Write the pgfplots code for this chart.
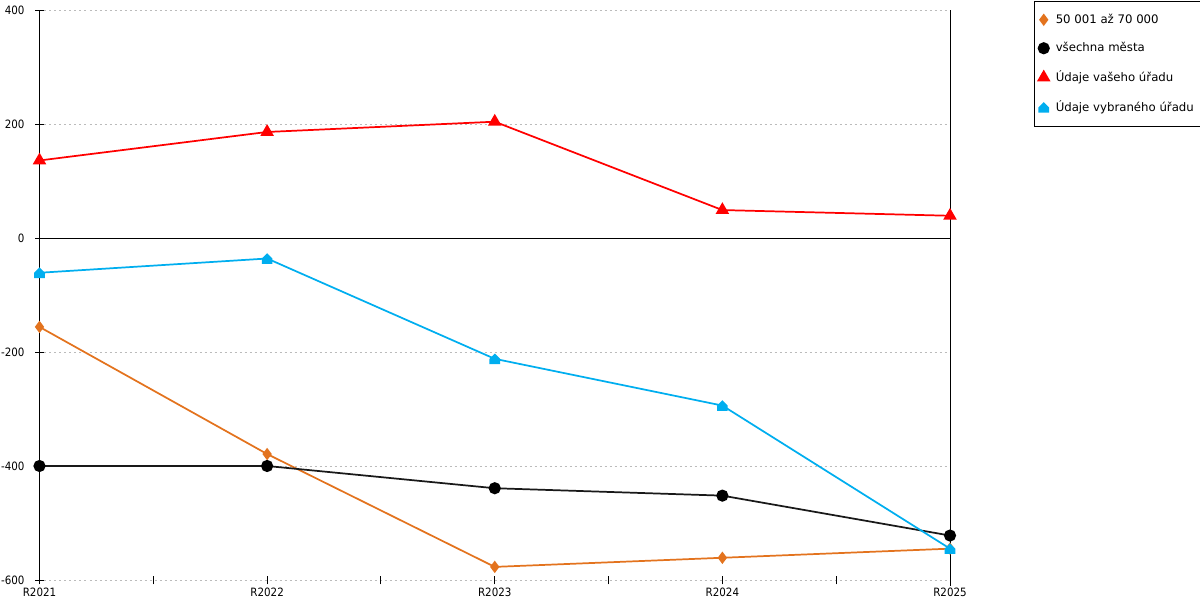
\documentclass[border=0pt]{standalone}
\usepackage{fontspec}
\setmainfont{DejaVu Sans}
\newfontfamily\condfont{DejaVu Sans Condensed}
\usepackage{pgfplots}
\pgfplotsset{compat=1.18}
\definecolor{corange}{HTML}{E3731E}
\definecolor{cblue}{HTML}{00AEEF}
\definecolor{cgrid}{HTML}{BBBBBB}
\pgfdeclareplotmark{house}{%
  \pgfpathmoveto{\pgfqpoint{-\pgfplotmarksize}{-\pgfplotmarksize}}%
  \pgfpathlineto{\pgfqpoint{\pgfplotmarksize}{-\pgfplotmarksize}}%
  \pgfpathlineto{\pgfqpoint{\pgfplotmarksize}{0pt}}%
  \pgfpathlineto{\pgfqpoint{0pt}{\pgfplotmarksize}}%
  \pgfpathlineto{\pgfqpoint{-\pgfplotmarksize}{0pt}}%
  \pgfpathclose
  \pgfusepathqfill
}
\begin{document}
\begin{tikzpicture}
\path[use as bounding box] (-29.625pt,-15pt) rectangle (870.375pt,435pt);
\begin{axis}[
  at={(0pt,0pt)}, anchor=south west,
  width=682.875pt, height=427.5pt, scale only axis,
  xmin=0, xmax=4, ymin=-600, ymax=400,
  clip=false,
  separate axis lines,
  x axis line style={draw=none},
  y axis line style={line width=0.7pt, black},
  ytick pos=left, xtick pos=bottom,
  tick align=center,
  major tick length=6.5pt, minor tick length=6.5pt,
  tick style={black, line width=0.7pt},
  minor tick style={black, line width=0.7pt},
  xtick={0,1,2,3,4},
  xticklabels={R2021,R2022,R2023,R2024,R2025},
  minor xtick={0.5,1.5,2.5,3.5},
  ytick={-600,-400,-200,200,400},
  extra y ticks={0},
  extra y tick style={grid=major, major grid style={solid, black, line width=0.6pt}},
  ymajorgrids,
  major grid style={cgrid, line width=0.6pt, dash pattern=on 1.5pt off 2.25pt},
  /pgf/number format/assume math mode=true,
  ticklabel style={font=\condfont\fontsize{8.6}{10}\selectfont},
  yticklabel style={xshift=-4.5pt},
  xticklabel style={yshift=0.5pt},
  legend cell align=left,
  legend style={at={(axis description cs:1.0922,1.0158)}, anchor=north west,
    draw=black, line width=0.7pt, font=\fontsize{8.8}{10.5}\selectfont,
    row sep=8.8pt, inner xsep=3pt, inner ysep=7.5pt,
    /tikz/every odd column/.append style={column sep=3pt}},
  legend image code/.code={\draw[#1,only marks] plot coordinates {(0pt,0pt)};},
]
\addplot[corange, line width=1.3pt, mark=diamond*, mark size=3.6pt, mark options={solid}]
  coordinates {(0,-156)(1,-379)(2,-577)(3,-561)(4,-545)};
\addlegendentry{50 001 až 70 000}
\addplot[black!90, line width=1.3pt, mark=*, mark size=3.9pt, mark options={solid, black}]
  coordinates {(0,-400)(1,-400)(2,-439)(3,-452)(4,-522)};
\addlegendentry{všechna města}
\addplot[red, line width=1.3pt, mark=triangle*, mark size=4.6pt, mark options={solid}]
  coordinates {(0,136)(1,186)(2,204)(3,49)(4,39)};
\addlegendentry{Údaje vašeho úřadu}
\addplot[cblue, line width=1.3pt, mark=house, mark size=4pt, mark options={solid}]
  coordinates {(0,-61)(1,-36)(2,-212)(3,-294)(4,-545)};
\addlegendentry{Údaje vybraného úřadu}
\draw[black, line width=0.7pt] (axis cs:4,-610) -- (axis cs:4,400);
\end{axis}
\end{tikzpicture}
\end{document}
